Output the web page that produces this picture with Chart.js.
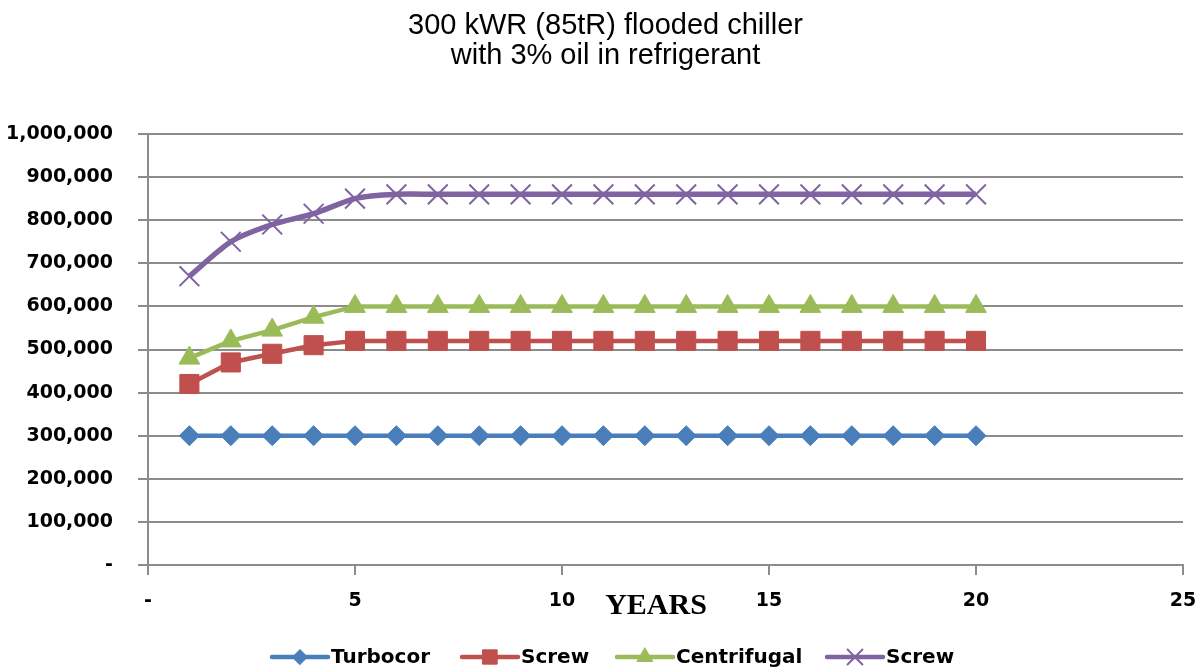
<!DOCTYPE html>
<html>
<head>
<meta charset="utf-8">
<title>300 kWR flooded chiller</title>
<script src="https://cdn.jsdelivr.net/npm/chart.js@4/dist/chart.umd.min.js"></script>
<style>
  html, body { margin: 0; padding: 0; background: #fff; }
  #wrap { width: 1204px; height: 672px; }
</style>
</head>
<body>
<div id="wrap"><canvas id="myChart" width="1204" height="672"></canvas></div>
<script>
// values
const years = [1, 2, 3, 4, 5, 6, 7, 8, 9, 10, 11, 12, 13, 14, 15, 16, 17, 18, 19, 20];
const turbocor = [300000, 300000, 300000, 300000, 300000, 300000, 300000, 300000, 300000, 300000,
                  300000, 300000, 300000, 300000, 300000, 300000, 300000, 300000, 300000, 300000];
const screw = [420000, 470000, 490000, 510000, 520000, 520000, 520000, 520000, 520000, 520000,
               520000, 520000, 520000, 520000, 520000, 520000, 520000, 520000, 520000, 520000];
const centrifugal = [480000, 520000, 545000, 575000, 600000, 600000, 600000, 600000, 600000, 600000,
                     600000, 600000, 600000, 600000, 600000, 600000, 600000, 600000, 600000, 600000];
const screw2 = [670000, 750000, 790000, 815000, 850000, 860000, 860000, 860000, 860000, 860000,
                860000, 860000, 860000, 860000, 860000, 860000, 860000, 860000, 860000, 860000];

const seriesNames = ["Turbocor", "Screw", "Centrifugal", "Screw"];
const xTicks = [0, 5, 10, 15, 20, 25];
const titleLines = ["300 kWR (85tR) flooded chiller", "with 3% oil in refrigerant"];
const xTitle = "YEARS";

const gridColor = "#8c8c8c";
const tickFont = { family: "DejaVu Sans", size: 19, weight: "bold" };

function toPoints(values) {
  return years.map((yr, i) => ({ x: yr, y: values[i] }));
}

function fmt(v) {
  return v === 0 ? "-" : v.toLocaleString("en-US");
}

// legend + axis title drawn by hand (line with marker in the middle)
const legendX = [272, 462, 617, 827];
const extras = {
  id: "extras",
  afterDraw(chart) {
    const ctx = chart.ctx;
    ctx.save();

    // axis title sits in the tick label row
    ctx.font = "bold 30px 'Liberation Serif'";
    ctx.fillStyle = "#000";
    ctx.textAlign = "center";
    ctx.textBaseline = "middle";
    ctx.fillText(xTitle, 656, 606);

    // legend
    ctx.font = "bold 20px 'DejaVu Sans'";
    ctx.textAlign = "left";
    const y = 657;
    chart.data.datasets.forEach((ds, i) => {
      const x = legendX[i];
      ctx.strokeStyle = ds.borderColor;
      ctx.lineWidth = 4.5;
      ctx.lineCap = "round";
      ctx.beginPath();
      ctx.moveTo(x, y);
      ctx.lineTo(x + 56, y);
      ctx.stroke();
      ctx.fillStyle = ds.pointBackgroundColor;
      ctx.strokeStyle = ds.pointBorderColor;
      ctx.lineWidth = ds.pointBorderWidth;
      Chart.helpers.drawPoint(ctx, {
        pointStyle: ds.pointStyle,
        radius: ds.pointRadius * 0.75,
        rotation: 0,
        borderWidth: ds.pointBorderWidth
      }, x + 28, y);
      ctx.fillStyle = "#000";
      ctx.fillText(ds.label, x + 59, y + 1);
    });
    ctx.restore();
  }
};

const ctx = document.getElementById("myChart").getContext("2d");

const chart = new Chart(ctx, {
  type: "line",
  data: {
    datasets: [
      {
        label: seriesNames[0],
        data: toPoints(turbocor),
        borderColor: "#4a7ebb",
        backgroundColor: "#4a7ebb",
        pointBackgroundColor: "#4a7ebb",
        pointBorderColor: "#4a7ebb",
        pointStyle: "rectRot",
        pointRadius: 10,
        pointBorderWidth: 1,
        borderWidth: 4.5
      },
      {
        label: seriesNames[1],
        data: toPoints(screw),
        borderColor: "#c0504d",
        backgroundColor: "#c0504d",
        pointBackgroundColor: "#c0504d",
        pointBorderColor: "#c0504d",
        pointStyle: "rect",
        pointRadius: 13.5,
        pointBorderWidth: 1,
        borderWidth: 4.5
      },
      {
        label: seriesNames[2],
        data: toPoints(centrifugal),
        borderColor: "#9bbb59",
        backgroundColor: "#9bbb59",
        pointBackgroundColor: "#9bbb59",
        pointBorderColor: "#9bbb59",
        pointStyle: "triangle",
        pointRadius: 12,
        pointBorderWidth: 1,
        borderWidth: 4.5
      },
      {
        label: seriesNames[3],
        data: toPoints(screw2),
        borderColor: "#8064a2",
        backgroundColor: "#8064a2",
        pointBackgroundColor: "#8064a2",
        pointBorderColor: "#8064a2",
        pointStyle: "crossRot",
        pointRadius: 14,
        pointBorderWidth: 2,
        borderWidth: 5.5,
        tension: 0.25
      }
    ]
  },
  options: {
    responsive: false,
    animation: false,
    events: [],
    layout: { padding: { left: 7, right: 0, top: 0, bottom: 0 } },
    plugins: {
      legend: { display: false },
      tooltip: { enabled: false },
      title: {
        display: true,
        text: titleLines,
        color: "#000",
        font: { family: "Liberation Sans", size: 29, weight: "normal", lineHeight: 30 / 29 },
        padding: { top: 11, bottom: 63 }
      }
    },
    scales: {
      x: {
        type: "linear",
        min: 0,
        max: 25,
        afterBuildTicks: scale => { scale.ticks = xTicks.map(v => ({ value: v })); },
        afterFit: scale => {
          scale.height = 107;
          scale.paddingLeft = 0;
          scale.paddingRight = 21;
        },
        border: { display: true, color: gridColor, width: 2 },
        grid: { drawOnChartArea: false, drawTicks: true, tickLength: 10, color: gridColor, lineWidth: 2 },
        ticks: {
          color: "#000",
          font: tickFont,
          padding: 15,
          maxRotation: 0,
          callback: v => fmt(v)
        }
      },
      y: {
        min: 0,
        max: 1000000,
        afterFit: scale => { scale.width = 141; },
        border: { display: true, color: gridColor, width: 2 },
        grid: { color: gridColor, lineWidth: 2, drawTicks: true, tickLength: 10 },
        ticks: {
          stepSize: 100000,
          color: "#000",
          font: tickFont,
          padding: 25,
          callback: v => fmt(v)
        }
      }
    }
  },
  plugins: [extras]
});
</script>
</body>
</html>
